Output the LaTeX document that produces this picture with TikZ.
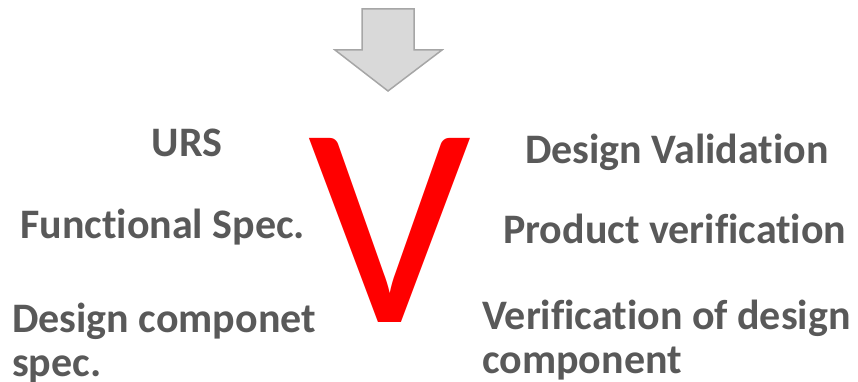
\documentclass[tikz,border=0pt]{standalone}
\usepackage{fontspec}
\setmainfont{Carlito}[Ligatures=NoCommon]
\definecolor{labelgray}{HTML}{595959}
\definecolor{arrowfill}{HTML}{D9D9D9}
\definecolor{arrowline}{HTML}{A6A6A6}
\definecolor{vred}{HTML}{FF0000}
\begin{document}
\begin{tikzpicture}[x=1pt,y=-1pt,
  stage/.style={inner sep=0pt, text=labelgray, font=\fontsize{42}{44}\selectfont\bfseries, align=left},
  bigv/.style={inner sep=0pt, text=vred, font=\fontsize{287}{287}\selectfont}]
\useasboundingbox (0,0) rectangle (858,382);

% block arrow pointing down into the V
\draw[fill=arrowfill, draw=arrowline, line width=1.5pt, line join=miter]
  (362,9) -- (414,9) -- (414,50) -- (442,50) -- (388,91) -- (335,50) -- (362,50) -- cycle;

% the V
\node[bigv, anchor=base] (vee) at (390,322) {V};

% left branch (two-line labels are anchored on their last baseline)
\node[stage, anchor=base] (urs) at (187,157) {URS};
\node[stage, anchor=base west] (fs) at (20,238) {Functional Spec.};
\node[stage, anchor=base west] (dcs) at (12,376) {Design componet\\spec.};

% right branch
\node[stage, anchor=base west] (dv) at (525,164) {Design Validation};
\node[stage, anchor=base west] (pv) at (503,243) {Product verification};
\node[stage, anchor=base west] (vdc) at (482,373) {Verification of design\\component};
\end{tikzpicture}
\end{document}
